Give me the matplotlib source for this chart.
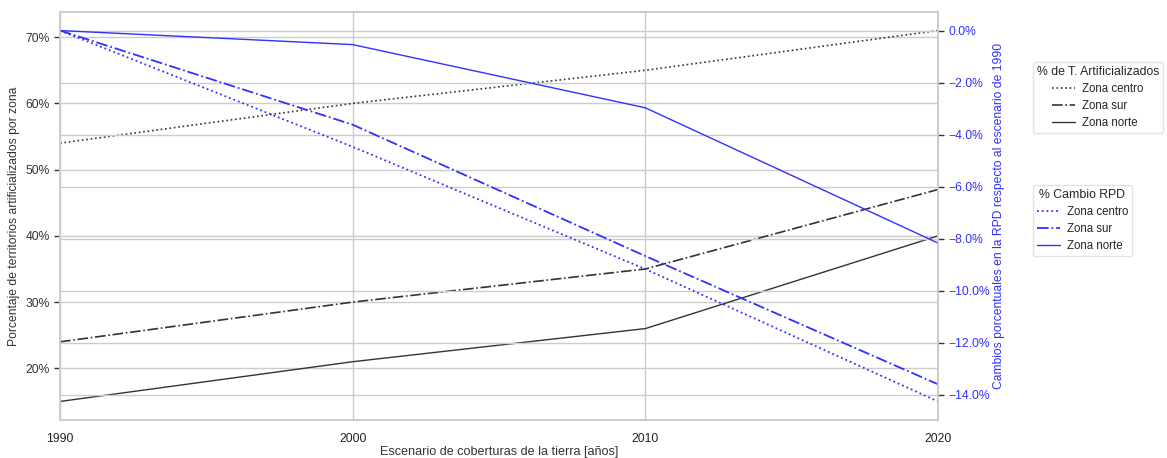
import matplotlib
matplotlib.use("Agg")
import matplotlib.pyplot as plt
import matplotlib.ticker as mticker
import seaborn as sns

sns.set_theme(style="whitegrid")
plt.rcParams['font.family'] = ['Liberation Sans', 'DejaVu Sans']

years = [1990, 2000, 2010, 2020]
zones = ["Zona centro", "Zona sur", "Zona norte"]

# Share of artificial territories per zone (%)
art_centro = [54, 60, 65, 71]
art_sur = [24, 30, 35, 47]
art_norte = [15, 21, 26, 40]

# Percentage change in RPD relative to 1990 (%)
rpd_centro = [0.0, -4.47, -9.17, -14.26]
rpd_sur = [0.0, -3.62, -8.67, -13.6]
rpd_norte = [0.0, -0.54, -2.97, -8.17]

styles = [":", "-.", "-"]
fs = 8.7

fig = plt.figure(figsize=(11.67, 4.58), dpi=100)
ax = fig.add_axes([60 / 1167, 1 - 420 / 458, 878 / 1167, 408 / 458])
ax2 = ax.twinx()

black = "#333333"
blue = "#3030ff"

art_lines = []
for vals, ls, lab in zip([art_centro, art_sur, art_norte], styles, zones):
    l, = ax.plot(years, vals, ls, color=black, lw=1.2 if ls != "-" else 1.0, label=lab)
    art_lines.append(l)

rpd_lines = []
for vals, ls, lab in zip([rpd_centro, rpd_sur, rpd_norte], styles, zones):
    l, = ax2.plot(years, vals, ls, color=blue, lw=1.3 if ls != "-" else 1.0, label=lab)
    rpd_lines.append(l)

ax.set_xlim(1990, 2020)
ax.set_xticks([1990, 2000, 2010, 2020])
ax.yaxis.set_major_formatter(mticker.FuncFormatter(lambda v, p: f"{v:.0f}%"))
ax2.yaxis.set_major_formatter(mticker.FuncFormatter(lambda v, p: f"{v:.1f}%".replace("-", "\u2212")))
ax2.set_yticks([0, -2, -4, -6, -8, -10, -12, -14])

for a in (ax, ax2):
    a.tick_params(axis="both", labelsize=fs, length=4, width=1, color=black)
    for s in a.spines.values():
        s.set_color("#cccccc")
ax.tick_params(axis="y", left=True, labelcolor="#333333")
ax.tick_params(axis="x", bottom=False, labelcolor="#222222", pad=5)
ax2.tick_params(axis="y", right=True, labelcolor=blue)

ax.set_xlabel("Escenario de coberturas de la tierra [años]", fontsize=9.1, color="#333333", labelpad=1)
ax.set_ylabel("Porcentaje de territorios artificializados por zona", fontsize=fs, color="#333333")
ax2.set_ylabel("Cambios porcentuales en la RPD respecto al escenario de 1990", fontsize=fs, color=blue,
               labelpad=2)

common = dict(loc="upper left", fontsize=8.3, title_fontsize=8.8, frameon=True,
              edgecolor="#dddddd", borderpad=0.35, handletextpad=0.6, labelspacing=0.45)
leg1 = fig.legend(handles=art_lines, title="% de T. Artificializados",
                  bbox_to_anchor=(1027 / 1167, 1 - 56 / 458), **common)
leg2 = fig.legend(handles=rpd_lines, title="% Cambio RPD",
                  bbox_to_anchor=(1027 / 1167, 1 - 179 / 458), **common)

fig.savefig("out.png", dpi=100)
